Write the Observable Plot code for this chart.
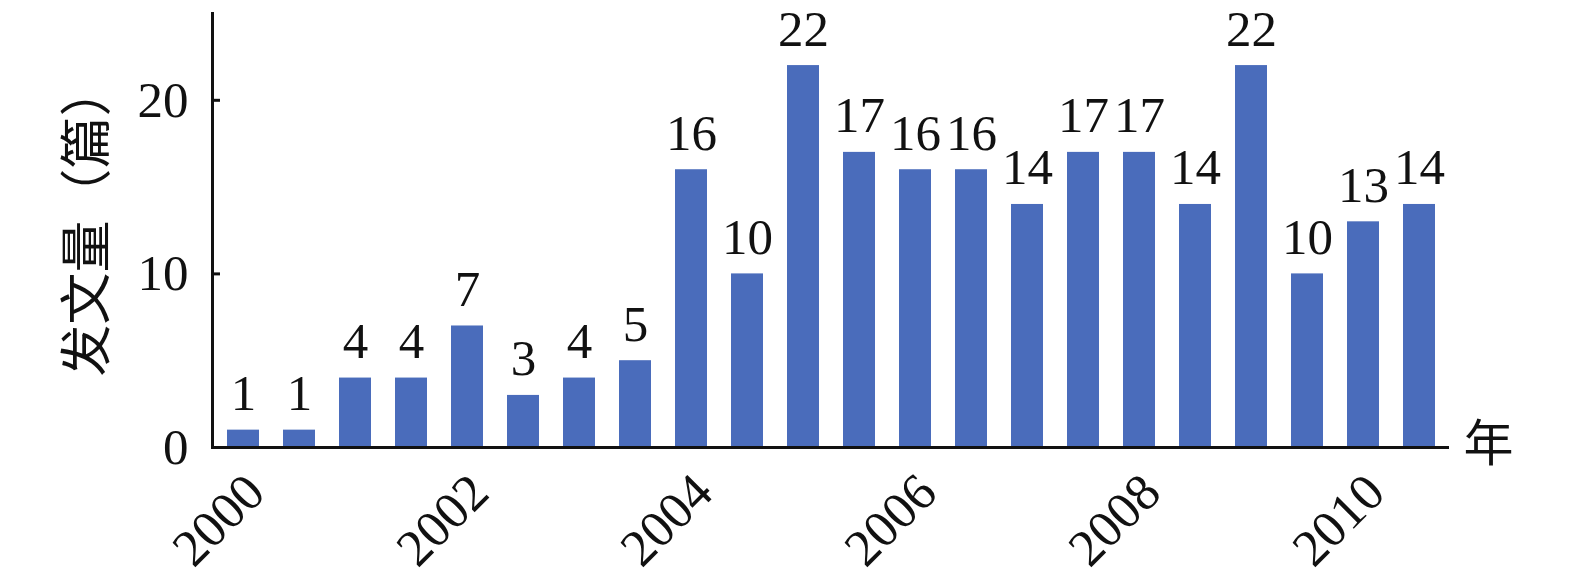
<!DOCTYPE html>
<html>
<head>
<meta charset="utf-8">
<script src="https://cdn.jsdelivr.net/npm/d3@7"></script>
<script src="https://cdn.jsdelivr.net/npm/@observablehq/plot@0.6"></script>
<style>
  html, body { margin: 0; padding: 0; background: #fff; }
  #chart { width: 1575px; height: 586px; }
</style>
</head>
<body>
<div id="chart"></div>
<script>
const periods = [2000, 2000.5, 2001, 2001.5, 2002, 2002.5, 2003, 2003.5, 2004, 2004.5, 2005, 2005.5, 2006, 2006.5, 2007, 2007.5, 2008, 2008.5, 2009, 2009.5, 2010, 2010.5];
const counts = [1, 1, 4, 4, 7, 3, 4, 5, 16, 10, 22, 17, 16, 16, 14, 17, 17, 14, 22, 10, 13, 14];
const xTicks = [2000, 2002, 2004, 2006, 2008, 2010];
const yTicks = [0, 10, 20];
const yTitle = "发文量（篇）";
const xTitle = "年";

const data = periods.map((p, i) => ({period: p, count: counts[i]}));
const serif = "'Liberation Serif', 'Times New Roman', 'Noto Sans CJK SC', serif";
const cjk = "'Noto Sans CJK SC', 'Liberation Serif', serif";

const chart = Plot.plot({
  width: 1575,
  height: 586,
  marginLeft: 212,
  marginRight: 126,
  marginTop: 13,
  marginBottom: 139,
  style: {fontFamily: serif, fontSize: "50px", color: "#111", background: "#fff"},
  x: {domain: periods, paddingInner: 0.43, paddingOuter: 0.215},
  y: {domain: [0, 25]},
  marks: [
    Plot.barY(data, {x: "period", y: "count", fill: "#4a6cbb"}),
    Plot.text(data, {x: "period", y: "count", text: d => String(d.count), dy: -20, lineAnchor: "bottom", fontSize: 51, fill: "#111"}),
    Plot.axisY(yTicks, {tickSize: -8, tickPadding: 32, strokeWidth: 3, label: null, fontSize: 51, tickFormat: d => String(d)}),
    Plot.axisX(xTicks, {tickSize: 0, tickPadding: 36, dx: 12, tickRotate: -45, label: null, fontSize: 52, tickFormat: d => String(d)}),
    Plot.ruleY([0], {strokeWidth: 3, stroke: "#111"}),
    Plot.frame({anchor: "left", strokeWidth: 3, stroke: "#111"}),
    Plot.text([yTitle], {frameAnchor: "left", dx: -124, dy: -10, rotate: -90, textAnchor: "middle", fontSize: 52, fontFamily: cjk, fill: "#111"}),
    Plot.text([xTitle], {frameAnchor: "bottom-right", dx: 14, dy: 13, textAnchor: "start", fontSize: 50, fontFamily: cjk, fill: "#111"})
  ]
});
document.getElementById("chart").appendChild(chart);
</script>
</body>
</html>
